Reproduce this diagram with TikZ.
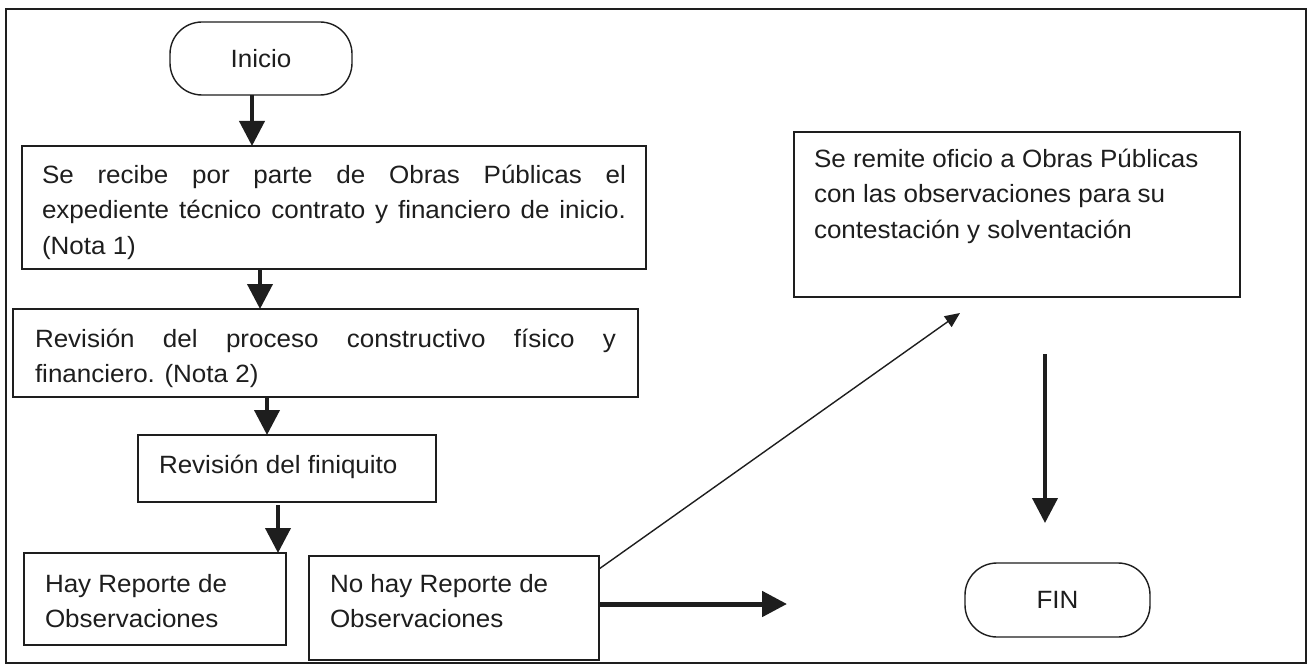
\documentclass[tikz,border=0pt]{standalone}
\usepackage{fontspec}
\setmainfont{Liberation Sans}[FakeStretch=1.04]
\usetikzlibrary{arrows.meta}
\definecolor{ink}{HTML}{1E1E1E}
\newcommand\bxtext[5]{\parbox[c][#2pt][t]{#1pt}{\leftskip=#3pt\rightskip=#3pt\parfillskip=0pt plus 1fil\rule{0pt}{#4pt}#5}}
\begin{document}
\begin{tikzpicture}[x=1pt,y=-1pt,
  every node/.style={text=ink, font=\fontsize{25}{35.5}\selectfont},
  proc/.style={draw=ink, line width=1.4pt, inner sep=0pt, outer sep=0pt, anchor=north west},
  term/.style={draw=ink, line width=1.4pt, rounded corners=32pt, inner sep=0pt, outer sep=0pt},
  thk/.style={draw=ink, line width=4pt, -{Triangle[length=25pt,width=25pt]}},
  thn/.style={draw=ink, line width=1.4pt, -{Triangle[length=15pt,width=13pt]}}]
\useasboundingbox (0,0) rectangle (1308,666);
\fill[white] (0,0) rectangle (1308,666);
\draw[ink, line width=1.5pt] (6,9) rectangle (1306,663);

\node[term, minimum width=182pt, minimum height=73pt] (ini) at (261,58.5) {Inicio};
\node[proc] (b1) at (22,146) {\bxtext{624}{123}{20}{37}{Se recibe por parte de Obras Públicas el\linebreak expediente técnico contrato y financiero de inicio.\linebreak (Nota 1)}};
\node[proc] (b2) at (13,309) {\bxtext{625}{88}{22}{38}{Revisión del proceso constructivo físico y\linebreak financiero. (Nota 2)}};
\node[proc] (b3) at (138,435) {\bxtext{298}{67}{21}{38}{Revisión del finiquito}};
\node[proc] (b4) at (24,553) {\bxtext{262}{92}{21}{39}{Hay Reporte de\newline Observaciones}};
\node[proc] (b5) at (309,556) {\bxtext{290}{104}{21}{36}{No hay Reporte de\newline Observaciones}};
\node[proc] (b6) at (794,132) {\bxtext{446}{165}{20}{35}{Se remite oficio a Obras Públicas\newline con las observaciones para su\newline contestación y solventación}};
\node[term, minimum width=185pt, minimum height=74pt] (fin) at (1057.5,600) {FIN};

\coordinate (rTip) at (787,604);
\coordinate (tTip) at (960,313);
\coordinate (dTop) at (1045,354);
\coordinate (dTip) at (1045,523);

\draw[thk] ([xshift=-9pt]ini.south) -- ([xshift=-9pt]ini.south |- b1.north);
\draw[thk] ([xshift=238pt]b1.south west) -- ([xshift=238pt]b1.south west |- b2.north);
\draw[thk] ([xshift=254pt]b2.south west) -- ([xshift=254pt]b2.south west |- b3.north);
\draw[thk] ([xshift=140pt,yshift=-3pt]b3.south west) -- ([xshift=140pt]b3.south west |- b4.north);
\draw[thn] ([yshift=-13pt]b5.north east) -- (tTip);
\draw[thk, line width=5pt] ([yshift=4pt]b5.east) -- (rTip);
\draw[thk] (dTop) -- (dTip);
\end{tikzpicture}
\end{document}
